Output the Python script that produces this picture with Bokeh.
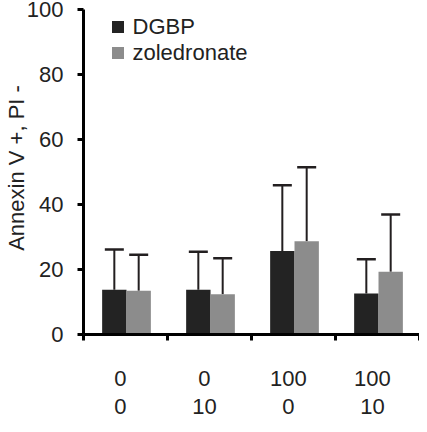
from bokeh.plotting import figure
from bokeh.models import (ColumnDataSource, FixedTicker, Range1d,
                          Whisker, TeeHead, Legend, LegendItem, Label)
from bokeh.embed import file_html
from bokeh.resources import INLINE

# ---- data ----
groups_dgbp = ["0", "0", "100", "100"]      # DGBP (row 1)
groups_ggoh = ["0", "10", "0", "10"]        # GGOH (row 2)
dgbp_mean = [13.8, 13.8, 25.7, 12.6]
dgbp_sd = [12.4, 11.7, 20.3, 10.6]
zol_mean = [13.5, 12.4, 28.7, 19.3]
zol_sd = [11.1, 11.1, 22.8, 17.7]
y_ticks = [0, 20, 40, 60, 80, 100]
series_names = ["DGBP", "zoledronate"]
row_names = ["DGBP", "GGOH"]

FONT = "Liberation Sans"
DARK = "#232323"
GREY = "#8c8c8c"
LINE = "black"
TXT = "#222222"

n = len(groups_dgbp)
centers = [i + 0.512 for i in range(n)]
label_pos = [i + 0.44 for i in range(n)]
bounds = [float(i) for i in range(n + 1)]
bw = 0.29

p = figure(width=419, height=424, output_backend="svg", toolbar_location=None,
           x_range=Range1d(0, 4), y_range=Range1d(0, 102.6),
           min_border_left=75, min_border_right=0, min_border_top=1,
           min_border_bottom=90)
p.outline_line_color = None
p.xgrid.grid_line_color = None
p.ygrid.grid_line_color = None

src_d = ColumnDataSource(dict(x=[c - bw / 2 for c in centers], top=dgbp_mean,
                              upper=[m + s for m, s in zip(dgbp_mean, dgbp_sd)]))
src_z = ColumnDataSource(dict(x=[c + bw / 2 for c in centers], top=zol_mean,
                              upper=[m + s for m, s in zip(zol_mean, zol_sd)]))

r_d = p.vbar(x="x", top="top", width=bw, source=src_d, fill_color=DARK, line_color=None)
r_z = p.vbar(x="x", top="top", width=bw, source=src_z, fill_color=GREY, line_color=None)

for src in (src_d, src_z):
    w = Whisker(source=src, base="x", lower="top", upper="upper",
                line_color="#231f20", line_width=2,
                upper_head=TeeHead(size=19, line_color="#231f20", line_width=2.5),
                lower_head=None)
    p.add_layout(w)

# y axis
ya = p.yaxis[0]
ya.ticker = FixedTicker(ticks=y_ticks)
ya.bounds = (0, 100)
ya.axis_line_width = 3
ya.axis_line_color = LINE
ya.major_tick_line_width = 3
ya.major_tick_line_color = LINE
ya.major_tick_out = 6
ya.major_tick_in = 0
ya.minor_tick_out = 0
ya.minor_tick_in = 0
ya.major_label_text_font = FONT
ya.major_label_text_font_size = "22px"
ya.major_label_text_color = TXT
ya.major_label_standoff = 14
ya.axis_label = "Annexin V +, PI -"
ya.axis_label_text_font = FONT
ya.axis_label_text_font_size = "22px"
ya.axis_label_text_font_style = "normal"
ya.axis_label_text_color = TXT
ya.axis_label_text_line_height = 1.0
ya.axis_label_standoff = -5

# x axis: labels at group centres (major), tick marks at group bounds (minor)
xa = p.xaxis[0]
xa.ticker = FixedTicker(ticks=label_pos, minor_ticks=bounds)
xa.major_label_overrides = {pos: f"{a}\n{b}" for pos, a, b in zip(label_pos, groups_dgbp, groups_ggoh)}
xa.axis_line_width = 3
xa.axis_line_color = LINE
xa.major_tick_out = 0
xa.major_tick_in = 0
xa.minor_tick_line_width = 3
xa.minor_tick_line_color = LINE
xa.minor_tick_out = 6
xa.minor_tick_in = 0
xa.major_label_text_font = FONT
xa.major_label_text_font_size = "22px"
xa.major_label_text_color = TXT
xa.major_label_text_line_height = 1.15
xa.major_label_standoff = 25

# row names at right (cut off by the edge)
for name, x, y in zip(row_names, [3.965, 3.767], [-13.9, -22.8]):
    p.add_layout(Label(x=x, y=y, text=name, text_font=FONT, text_font_size="22px",
                       text_color=TXT, text_baseline="middle", text_align="left"))

legend = Legend(items=[LegendItem(label=series_names[0], renderers=[r_d]),
                       LegendItem(label=series_names[1], renderers=[r_z])],
                location=(26.5, 268.5), margin=0, padding=0,
                glyph_width=15, glyph_height=15, label_height=24,
                label_standoff=8, spacing=0,
                label_text_font=FONT, label_text_font_size="22px",
                label_text_color=TXT,
                border_line_color=None, background_fill_alpha=0)
p.add_layout(legend)

open("out.html", "w").write(file_html(p, INLINE))
